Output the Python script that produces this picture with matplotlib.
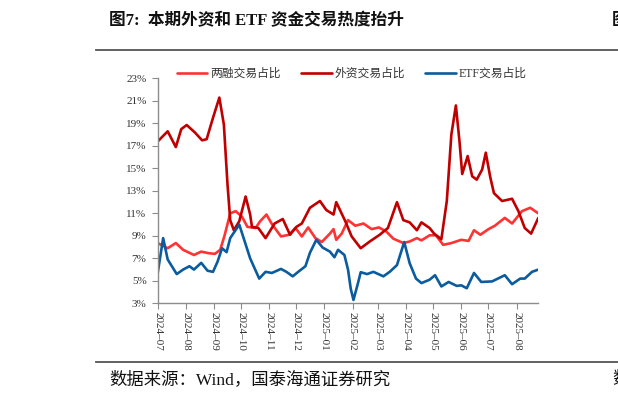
import matplotlib
matplotlib.use("Agg")
import matplotlib.pyplot as plt
import pandas as pd

# ---------------- data ----------------
margin_dates = ["2024-07-01", "2024-07-12", "2024-07-21", "2024-07-29", "2024-08-10", "2024-08-18",
                "2024-08-26", "2024-09-02", "2024-09-08", "2024-09-13", "2024-09-19", "2024-09-25",
                "2024-10-02", "2024-10-08", "2024-10-17", "2024-10-22", "2024-10-29", "2024-11-04",
                "2024-11-14", "2024-11-23", "2024-11-30", "2024-12-07", "2024-12-14", "2024-12-22",
                "2024-12-29", "2025-01-07", "2025-01-11", "2025-01-14", "2025-01-20", "2025-01-27",
                "2025-02-04", "2025-02-13", "2025-02-22", "2025-03-02", "2025-03-10", "2025-03-18",
                "2025-03-29", "2025-04-05", "2025-04-13", "2025-04-18", "2025-04-27", "2025-05-04",
                "2025-05-12", "2025-05-21", "2025-06-01", "2025-06-09", "2025-06-15", "2025-06-22",
                "2025-07-01", "2025-07-08", "2025-07-19", "2025-07-27", "2025-08-07", "2025-08-16",
                "2025-08-25"]
margin_vals = [8.36, 7.9, 8.36, 7.76, 7.3, 7.6,
               7.46, 7.4, 7.76, 9.1, 11.0, 11.2,
               10.7, 9.8, 9.7, 10.3, 10.9, 10.05,
               8.95, 9.1, 9.7, 8.95, 9.75, 8.8,
               8.45, 9.2, 9.6, 8.65, 9.2, 10.4,
               9.9, 10.1, 9.6, 9.75, 9.4, 8.75,
               8.36, 8.5, 8.8, 8.6, 9.05, 9.05,
               8.2, 8.36, 8.65, 8.55, 9.5, 9.1,
               9.6, 9.9, 10.6, 10.1, 11.2, 11.5,
               11.0]

foreign_dates = ["2024-07-01", "2024-07-12", "2024-07-21", "2024-07-27", "2024-08-02", "2024-08-11",
                 "2024-08-19", "2024-08-24", "2024-08-31", "2024-09-07", "2024-09-12", "2024-09-16",
                 "2024-09-19", "2024-09-23", "2024-09-29", "2024-10-06", "2024-10-11", "2024-10-13",
                 "2024-10-20", "2024-10-28", "2024-11-07", "2024-11-16", "2024-11-24", "2024-12-01",
                 "2024-12-07", "2024-12-16", "2024-12-27", "2025-01-03", "2025-01-11", "2025-01-14",
                 "2025-01-24", "2025-01-31", "2025-02-10", "2025-02-20", "2025-03-03", "2025-03-12",
                 "2025-03-22", "2025-03-29", "2025-04-05", "2025-04-13", "2025-04-18", "2025-04-27",
                 "2025-05-02", "2025-05-10", "2025-05-16", "2025-05-21", "2025-05-26", "2025-05-30",
                 "2025-06-02", "2025-06-08", "2025-06-13", "2025-06-18", "2025-06-24", "2025-06-28",
                 "2025-07-03", "2025-07-07", "2025-07-16", "2025-07-27", "2025-08-03", "2025-08-10",
                 "2025-08-17", "2025-08-25"]
foreign_vals = [17.4, 18.3, 16.9, 18.5, 18.86, 18.2,
                17.5, 17.6, 19.5, 21.3, 18.9, 13.6,
                10.4, 9.5, 10.3, 12.5, 10.9, 9.8,
                9.7, 8.8, 10.1, 10.5, 9.1, 9.8,
                10.1, 11.5, 12.1, 11.3, 10.9, 12.0,
                10.3, 8.95, 7.9, 8.5, 9.1, 9.7,
                12.0, 10.4, 10.2, 9.5, 10.2, 9.7,
                9.2, 8.7, 12.1, 18.0, 20.6, 17.4,
                14.5, 16.1, 14.3, 14.0, 14.9, 16.4,
                14.2, 12.8, 12.1, 12.3, 11.2, 9.7,
                9.2, 10.6]

etf_dates = ["2024-07-01", "2024-07-07", "2024-07-12", "2024-07-22", "2024-07-29", "2024-08-05",
             "2024-08-10", "2024-08-18", "2024-08-25", "2024-08-31", "2024-09-05", "2024-09-10",
             "2024-09-15", "2024-09-19", "2024-09-29", "2024-10-05", "2024-10-11", "2024-10-21",
             "2024-10-28", "2024-11-04", "2024-11-14", "2024-11-20", "2024-11-27", "2024-12-03",
             "2024-12-11", "2024-12-16", "2024-12-23", "2024-12-30", "2025-01-07", "2025-01-12",
             "2025-01-16", "2025-01-23", "2025-01-27", "2025-01-30", "2025-02-02", "2025-02-07",
             "2025-02-10", "2025-02-17", "2025-02-24", "2025-03-07", "2025-03-14", "2025-03-22",
             "2025-03-30", "2025-04-05", "2025-04-12", "2025-04-18", "2025-04-27", "2025-05-03",
             "2025-05-10", "2025-05-18", "2025-05-27", "2025-06-01", "2025-06-07", "2025-06-15",
             "2025-06-23", "2025-07-05", "2025-07-19", "2025-07-27", "2025-08-05", "2025-08-10",
             "2025-08-18", "2025-08-25"]
etf_vals = [5.7, 8.8, 6.9, 5.6, 6.0, 6.3,
            6.0, 6.6, 5.9, 5.8, 6.7, 7.9,
            7.55, 8.8, 10.0, 8.5, 7.0, 5.2,
            5.8, 5.7, 6.06, 5.8, 5.4, 5.8,
            6.3, 7.5, 8.65, 7.96, 7.6, 7.1,
            7.76, 7.3, 6.0, 4.3, 3.3, 4.8,
            5.77, 5.6, 5.8, 5.4, 5.8, 6.4,
            8.45, 6.57, 5.2, 4.8, 5.1, 5.5,
            4.5, 4.9, 4.55, 4.6, 4.34, 5.7,
            4.9, 4.95, 5.5, 4.7, 5.2, 5.2,
            5.8, 6.0]

series_names = ["两融交易占比", "外资交易占比", "ETF交易占比"]
series_colors = ["#FF3333", "#C00000", "#0B5C9E"]
y_ticks = [3, 5, 7, 9, 11, 13, 15, 17, 19, 21, 23]
x_tick_months = ["2024-07", "2024-08", "2024-09", "2024-10", "2024-11", "2024-12", "2025-01",
                 "2025-02", "2025-03", "2025-04", "2025-05", "2025-06", "2025-07", "2025-08"]
title_text = "图7:  本期外资和 ETF 资金交易热度抬升"
source_text = "数据来源：Wind，国泰海通证券研究"

# ---------------- figure ----------------
MIX = ["Liberation Serif", "Noto Sans CJK SC", "DejaVu Sans"]
plt.rcParams["font.family"] = MIX

fig = plt.figure(figsize=(6.18, 3.99), dpi=100)
ax = fig.add_axes([0.2552, 0.2398, 0.6159, 0.5635])

data = [(margin_dates, margin_vals), (foreign_dates, foreign_vals), (etf_dates, etf_vals)]
for (d, v), name, col in zip(data, series_names, series_colors):
    ax.plot(pd.to_datetime(d), v, color=col, lw=1.9, label=name,
            solid_joinstyle="round", solid_capstyle="round")

ax.set_ylim(3, 23)
ax.set_yticks(y_ticks)
ax.set_yticklabels([f"{t}%" for t in y_ticks])
ax.set_xlim(pd.Timestamp("2024-07-01"), pd.Timestamp("2025-08-25"))
xt = pd.to_datetime([m + "-01" for m in x_tick_months])
ax.set_xticks(xt)
ax.set_xticklabels([m.replace("-", "–") for m in x_tick_months], rotation=-90,
                   ha="center", va="top")

for s in ["top", "right"]:
    ax.spines[s].set_visible(False)
for s in ["left", "bottom"]:
    ax.spines[s].set_color("#8C8C8C")
    ax.spines[s].set_linewidth(1.0)
ax.tick_params(axis="both", direction="out", length=4, width=0.8, color="#8C8C8C",
               labelsize=8, labelcolor="#333333")
ax.tick_params(axis="y", pad=4)
ax.tick_params(axis="x", pad=2)

leg = ax.legend(loc="center", bbox_to_anchor=(0.51, 1.02), ncol=3, frameon=False,
                fontsize=8.5, handlelength=2.6, handletextpad=0.25, columnspacing=1.7,
                borderaxespad=0)
for t in leg.get_texts():
    t.set_color("#333333")

# header / footer
fig.text(109 / 618, 1 - 21 / 399, title_text, fontsize=12, fontweight="bold",
         ha="left", va="center", color="#111111")
fig.text(612 / 618, 1 - 21 / 399, "图", fontsize=12, fontweight="bold",
         ha="left", va="center", color="#111111")
fig.lines.append(plt.Line2D([96 / 618, 1], [1 - 50 / 399, 1 - 50 / 399],
                            transform=fig.transFigure, color="#555555", lw=1.3))
fig.lines.append(plt.Line2D([96 / 618, 1], [1 - 362 / 399, 1 - 362 / 399],
                            transform=fig.transFigure, color="#555555", lw=1.3))
fig.text(109 / 618, 1 - 380 / 399, source_text, fontsize=12.5,
         ha="left", va="center", color="#111111")
fig.text(612 / 618, 1 - 380 / 399, "数", fontsize=12.5,
         ha="left", va="center", color="#111111")

fig.savefig("out.png", dpi=100, facecolor="white")
